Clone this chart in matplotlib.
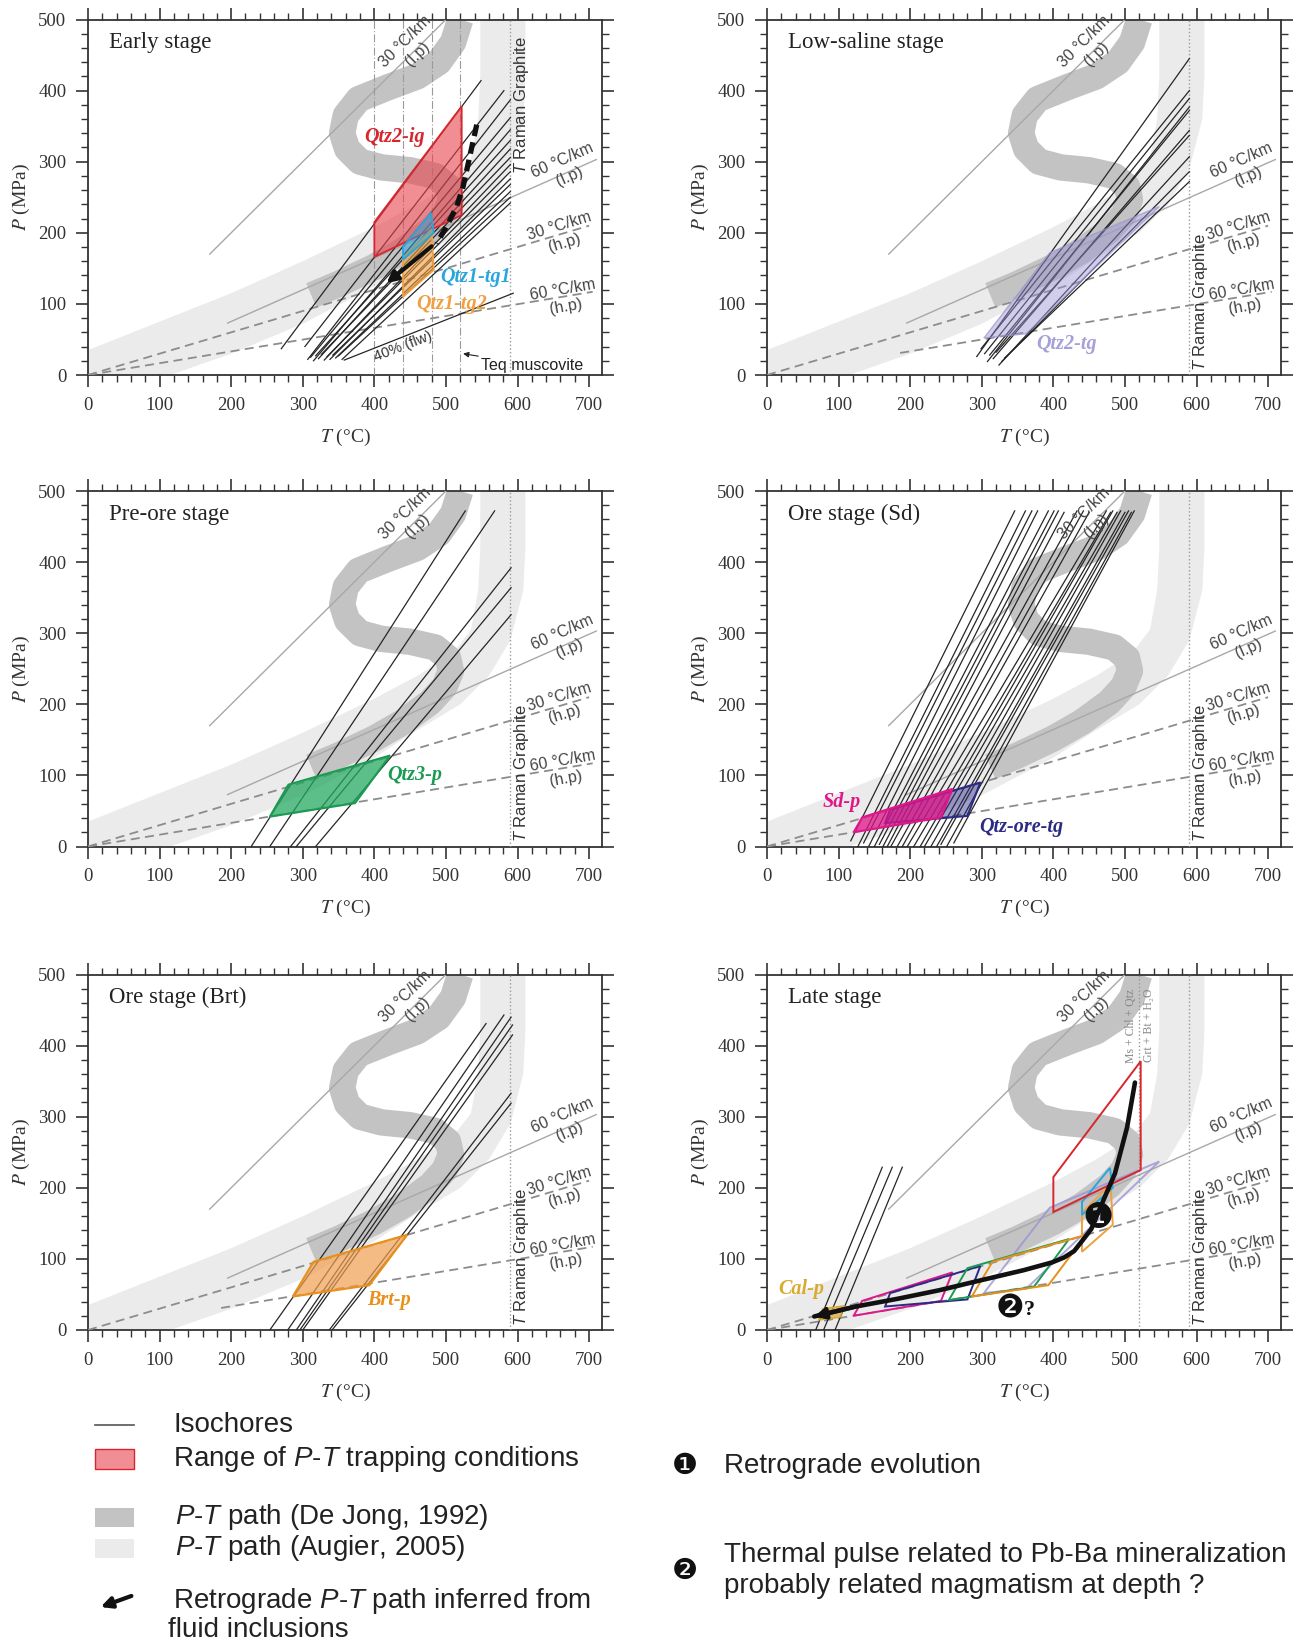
#!/usr/bin/env python3
"""
P-T diagrams of fluid-inclusion isochores for the six vein stages,
plotted over the regional P-T paths (De Jong 1992; Augier 2005).
Output: out.png (1303 x 1647 px).
"""

import matplotlib
matplotlib.use("Agg")
import matplotlib.pyplot as plt
from matplotlib.colors import to_rgba
from matplotlib.lines import Line2D
from matplotlib.patches import Rectangle, FancyArrowPatch

SERIF = "Liberation Serif"
SANS = "Liberation Sans"

plt.rcParams["mathtext.fontset"] = "custom"
plt.rcParams["mathtext.rm"] = SANS
plt.rcParams["mathtext.it"] = SANS + ":italic"

LIGHT = "#ebebeb"
DARK = "#c3c3c3"

# ---- regional P-T paths (T in degC, P in MPa) ----
# Augier (2005): broad light band, outline going up the left edge and back down the right
augier_t = [0, 100, 200, 300, 400, 460, 510, 535, 545, 548, 548,
            611, 611, 608, 590, 560, 520, 454, 400, 300, 200, 115, 0]
augier_p = [35, 75, 115, 160, 208, 240, 272, 305, 360, 420, 500,
            500, 420, 360, 290, 240, 200, 160, 125, 72, 30, 0, 0]
# De Jong (1992): S-shaped path (centre line of the dark band)
dejong_t = [312, 350, 400, 440, 478, 498, 507, 503, 485, 450, 410, 380,
            362, 355, 360, 378, 420, 460, 490, 510, 520]
dejong_p = [112, 128, 152, 175, 203, 225, 247, 265, 280, 288, 292, 300,
            318, 340, 365, 388, 405, 420, 440, 468, 500]

# ---- geotherms ----
g30lp_t, g30lp_p = [170, 500], [170, 500]
g60lp_t, g60lp_p = [195, 710], [73, 303]
g30hp_t, g30hp_p = [0, 700], [0, 210]
g60hp_t, g60hp_p = [0, 705], [0, 117]
g60hp_short_t, g60hp_short_p = [186, 705], [31, 117]
T_RAMAN = 590

# ---- isochores (T0, P0, T1, P1) ----
early_iso = [(270, 37, 549, 414), (303, 40, 581, 400), (307, 22, 590, 387),
             (311, 25, 590, 362), (315, 20, 590, 345), (318, 27, 590, 330),
             (322, 23, 590, 318), (326, 29, 590, 306), (330, 21, 590, 296),
             (334, 26, 590, 286), (338, 22, 590, 276), (342, 28, 590, 268),
             (346, 24, 590, 258), (350, 27, 590, 250), (355, 22, 590, 242)]
lowsal_iso = [(293, 26, 590, 445), (299, 37, 590, 400), (304, 30, 590, 389),
              (308, 19, 590, 377), (311, 28, 590, 372), (316, 23, 590, 344),
              (320, 32, 590, 337), (324, 14, 590, 307), (328, 19, 590, 286),
              (332, 24, 590, 272)]
preore_iso = [(228, 0, 527, 472), (254, 0, 568, 472), (283, 0, 591, 392),
              (291, 0, 591, 364), (318, 0, 591, 326)]
sd_iso = [(117, 8, 346, 472), (127, 0, 361, 472), (135, 5, 370, 472),
          (142, 0, 378, 472), (150, 0, 393, 472), (157, 3, 401, 472),
          (162, 0, 407, 472), (168, 0, 415, 470), (173, 0, 433, 472),
          (182, 0, 442, 472), (189, 0, 450, 470), (196, 0, 474, 472),
          (205, 0, 480, 470), (214, 0, 483, 472), (220, 0, 489, 470),
          (229, 0, 494, 472), (237, 0, 500, 470), (243, 3, 505, 472),
          (251, 0, 509, 470), (261, 5, 513, 472)]
brt_iso = [(254, 0, 556, 431), (279, 0, 581, 443), (291, 0, 591, 440),
           (296, 0, 593, 429), (300, 0, 593, 415), (337, 0, 591, 333),
           (341, 0, 591, 319)]
late_iso = [(68, 0, 161, 229), (79, 0, 175, 229), (95, 0, 189, 229)]

# ---- trapping-condition polygons ----
qtz2_ig_t, qtz2_ig_p = [400, 400, 522, 522], [166, 215, 378, 225]
qtz1_tg1_t, qtz1_tg1_p = [440, 440, 479, 483], [162, 180, 228, 200]
qtz1_tg2_t, qtz1_tg2_p = [440, 440, 480, 483], [110, 165, 205, 148]
qtz2_tg_t, qtz2_tg_p = [303, 395, 548, 362], [52, 172, 237, 58]
qtz3_p_t, qtz3_p_p = [254, 280, 422, 373], [42, 87, 128, 61]
sd_p_t, sd_p_p = [121, 133, 259, 243], [20, 41, 81, 41]
qtz_ore_t, qtz_ore_p = [165, 172, 298, 280], [33, 52, 90, 43]
brt_p_t, brt_p_p = [286, 315, 446, 393], [47, 96, 134, 63]
cal_p_t, cal_p_p = [72, 78, 108, 102], [14, 30, 34, 18]

# ---- retrograde paths ----
early_path_t = [543, 524, 515, 501, 487]
early_path_p = [352, 265, 237, 209, 185]
early_arrow_t = [480, 417]
early_arrow_p = [181, 129]
late_path_t = [514, 503, 486, 468, 453, 440, 429, 415, 398, 358, 299, 241,
               183, 124, 66]
late_path_p = [348, 285, 220, 178, 142, 125, 111, 102, 95, 84, 70, 56,
               44, 33, 19]

early_guides_t = [400, 440, 480, 520]
flw40_t, flw40_p = [358, 594], [21, 115]

RED = "#d8262f"
CYAN = "#29a6dc"
ORANGE = "#f0a040"
LAVENDER = "#9a94d4"
GREEN = "#1b9a52"
MAGENTA = "#e0168a"
NAVY = "#2b2b85"
BRT = "#e8901a"
CAL = "#d9aa30"


def style_axes(ax, title):
    ax.set_xlim(0, 718)
    ax.set_ylim(0, 500)
    ax.set_xticks(range(0, 701, 100))
    ax.set_xticks(range(0, 718, 20), minor=True)
    ax.set_yticks(range(0, 501, 100))
    ax.set_yticks(range(0, 501, 20), minor=True)
    ax.tick_params(which="both", direction="out", top=True, right=True,
                   color="#333333", labelcolor="#333333", labelsize=13.5)
    ax.tick_params(which="major", length=8.5, width=1.2, pad=7)
    ax.tick_params(which="minor", length=5, width=1.0)
    for lbl in ax.get_xticklabels() + ax.get_yticklabels():
        lbl.set_family(SERIF)
    for sp in ax.spines.values():
        sp.set_color("#333333")
        sp.set_linewidth(1.3)
    ax.set_xlabel("$T$ (°C)", family=SERIF, fontsize=14, color="#333333",
                  math_fontfamily="stix")
    ax.set_ylabel("$P$ (MPa)", family=SERIF, fontsize=14, color="#333333",
                  math_fontfamily="stix")
    ax.xaxis.set_label_coords(0.5, -0.145)
    ax.yaxis.set_label_coords(-0.108, 0.5)
    ax.text(0.04, 0.935, title, transform=ax.transAxes, family=SERIF,
            fontsize=16.5, va="center", ha="left", color="#222222")


def background(ax, iso, short_hp60=False, raman_p=103):
    ax.fill(augier_t, augier_p, color=LIGHT, lw=0, zorder=1)
    ax.plot(dejong_t, dejong_p, color=DARK, lw=19, solid_capstyle="butt",
            solid_joinstyle="round", zorder=2)
    ax.plot(g30lp_t, g30lp_p, color="#a8a8a8", lw=1.0, zorder=3)
    ax.plot(g60lp_t, g60lp_p, color="#a8a8a8", lw=1.0, zorder=3)
    ax.plot(g30hp_t, g30hp_p, color="#8c8c8c", lw=1.3, ls=(0, (5, 3)), zorder=3)
    if short_hp60:
        ax.plot(g60hp_short_t, g60hp_short_p, color="#8c8c8c", lw=1.3,
                ls=(0, (5, 3)), zorder=3)
    else:
        ax.plot(g60hp_t, g60hp_p, color="#8c8c8c", lw=1.3, ls=(0, (5, 3)), zorder=3)
    ax.axvline(T_RAMAN, color="#9a9a9a", lw=1.0, ls=":", zorder=3)

    for t0, p0, t1, p1 in iso:
        ax.plot([t0, t1], [p0, p1], color="#262626", lw=0.9, zorder=4)

    kw = dict(family=SANS, fontsize=11.5, color="#444444", ha="center",
              va="center", multialignment="center", zorder=6)
    ax.text(452, 460, "30 °C/km\n(l.p)", rotation=45, **kw)
    ax.text(668, 290, "60 °C/km\n(l.p)", rotation=24, **kw)
    ax.text(662, 198, "30 °C/km\n(h.p)", rotation=17, **kw)
    ax.text(665, 108, "60 °C/km\n(h.p)", rotation=10, **kw)
    ax.text(605, raman_p, "$T$ Raman Graphite", rotation=90, family=SANS,
            fontsize=12, color="#333333", ha="center", va="center", zorder=6)


def polygon(ax, t, p, color, alpha, edge=None, lw=1.3):
    ax.fill(t, p, facecolor=to_rgba(color, alpha),
            edgecolor=edge if edge else color, lw=lw, zorder=5)


def outline(ax, t, p, color):
    ax.fill(t, p, facecolor="none", edgecolor=color, lw=1.4, zorder=5)


def tag(ax, t, p, text, color):
    ax.text(t, p, text, family=SERIF, style="italic", weight="bold",
            fontsize=14.5, color=color, ha="center", va="center", zorder=7)


def panel_early(ax):
    background(ax, early_iso, raman_p=380)
    for t in early_guides_t:
        ax.axvline(t, color="#9a9a9a", lw=0.8, ls=(0, (7, 2, 1, 2)), zorder=3)
    ax.plot(flw40_t, flw40_p, color="#262626", lw=0.9, zorder=4)
    ax.text(440, 40, "40% (flw)", rotation=21, family=SANS, fontsize=10.5,
            color="#333333", ha="center", va="center", zorder=6)
    ax.annotate("Teq muscovite", xy=(524, 30), xytext=(549, 14),
                family=SANS, fontsize=11.5, color="#222222", va="center",
                arrowprops=dict(arrowstyle="-|>", color="#222222", lw=0.8,
                                shrinkA=0, shrinkB=0, mutation_scale=8),
                zorder=6)
    polygon(ax, qtz2_ig_t, qtz2_ig_p, "#e8434d", 0.6, edge=RED)
    polygon(ax, qtz1_tg2_t, qtz1_tg2_p, ORANGE, 0.6)
    polygon(ax, qtz1_tg1_t, qtz1_tg1_p, CYAN, 0.5)
    ax.plot(early_path_t, early_path_p, color="#111111", lw=3.8,
            ls=(0, (2.2, 1.2)), zorder=8)
    ax.annotate("", xy=(early_arrow_t[1], early_arrow_p[1]),
                xytext=(early_arrow_t[0], early_arrow_p[0]),
                arrowprops=dict(arrowstyle="-|>", color="#111111", lw=3,
                                shrinkA=0, shrinkB=0, mutation_scale=16),
                zorder=8)
    tag(ax, 428, 335, "Qtz2-ig", RED)
    tag(ax, 542, 138, "Qtz1-tg1", CYAN)
    tag(ax, 508, 100, "Qtz1-tg2", ORANGE)


def panel_lowsal(ax):
    background(ax, lowsal_iso, short_hp60=True)
    polygon(ax, qtz2_tg_t, qtz2_tg_p, LAVENDER, 0.45,
            edge=to_rgba(LAVENDER, 0.7), lw=1.0)
    tag(ax, 419, 44, "Qtz2-tg", "#a6a0d8")


def panel_preore(ax):
    background(ax, preore_iso)
    polygon(ax, qtz3_p_t, qtz3_p_p, "#25a862", 0.75, edge=GREEN, lw=1.5)
    tag(ax, 456, 100, "Qtz3-p", GREEN)


def panel_sd(ax):
    background(ax, sd_iso)
    # siderite box drawn over the quartz box so the overlap stays magenta
    polygon(ax, qtz_ore_t, qtz_ore_p, NAVY, 0.45, edge=NAVY, lw=1.5)
    polygon(ax, sd_p_t, sd_p_p, MAGENTA, 0.75, lw=1.5)
    tag(ax, 105, 63, "Sd-p", MAGENTA)
    tag(ax, 355, 28, "Qtz-ore-tg", NAVY)


def panel_brt(ax):
    background(ax, brt_iso, short_hp60=True)
    polygon(ax, brt_p_t, brt_p_p, "#f0a050", 0.7, edge=BRT, lw=1.5)
    tag(ax, 421, 42, "Brt-p", BRT)


def panel_late(ax):
    background(ax, late_iso)
    ax.axvline(520, color="#9a9a9a", lw=1.0, ls=":", zorder=3)
    ax.text(509, 428, "Ms + Chl + Qtz", rotation=90, family=[SERIF, "DejaVu Serif"],
            fontsize=8.5, color="#888888", ha="center", va="center", zorder=6)
    ax.text(533, 428, "Grt + Bt + H₂O", rotation=90, family=[SERIF, "DejaVu Serif"],
            fontsize=8.5, color="#888888", ha="center", va="center", zorder=6)
    outline(ax, qtz2_tg_t, qtz2_tg_p, to_rgba(LAVENDER, 0.8))
    outline(ax, sd_p_t, sd_p_p, MAGENTA)
    outline(ax, qtz_ore_t, qtz_ore_p, NAVY)
    outline(ax, qtz3_p_t, qtz3_p_p, GREEN)
    outline(ax, brt_p_t, brt_p_p, BRT)
    outline(ax, qtz1_tg2_t, qtz1_tg2_p, ORANGE)
    outline(ax, qtz1_tg1_t, qtz1_tg1_p, CYAN)
    outline(ax, qtz2_ig_t, qtz2_ig_p, RED)
    polygon(ax, cal_p_t, cal_p_p, CAL, 0.7, lw=1.0)
    ax.plot(late_path_t, late_path_p, color="#111111", lw=3.3,
            solid_capstyle="round", solid_joinstyle="round", zorder=8)
    ax.annotate("", xy=(late_path_t[-1], late_path_p[-1]),
                xytext=(late_path_t[-2], late_path_p[-2]),
                arrowprops=dict(arrowstyle="-|>", color="#111111", lw=3,
                                shrinkA=0, shrinkB=0, mutation_scale=16),
                zorder=8)
    ax.text(462, 157, "❶", family="DejaVu Sans", fontsize=25, color="#111111",
            ha="center", va="center", zorder=9)
    ax.text(340, 30, "❷", family="DejaVu Sans", fontsize=23, color="#111111",
            ha="center", va="center", zorder=9)
    ax.text(358, 28, "?", family=SERIF, weight="bold", fontsize=16,
            color="#111111", ha="left", va="center", zorder=9)
    tag(ax, 48, 58, "Cal-p", CAL)


def legend(fig):
    W, H = 1303.0, 1647.0

    def fx(x):
        return x / W

    def fy(y):
        return 1 - y / H

    fig.add_artist(Line2D([fx(95), fx(134)], [fy(1425), fy(1425)],
                          color="#555555", lw=1.2))
    fig.add_artist(Rectangle((fx(95), fy(1469)), 39 / W, 20 / H,
                             facecolor=to_rgba("#e8434d", 0.6), edgecolor=RED, lw=1))
    fig.add_artist(Rectangle((fx(95), fy(1527)), 39 / W, 19 / H,
                             facecolor=DARK, edgecolor="none"))
    fig.add_artist(Rectangle((fx(95), fy(1558)), 39 / W, 19 / H,
                             facecolor=LIGHT, edgecolor="none"))
    fig.add_artist(FancyArrowPatch((fx(134), fy(1595)), (fx(98), fy(1608)),
                                   arrowstyle="-|>", mutation_scale=16,
                                   lw=3, color="#111111"))

    kw = dict(family=SANS, fontsize=20, color="#222222", va="center", ha="left")
    fig.text(fx(173), fy(1425), "Isochores", **kw)
    fig.text(fx(173), fy(1459), "Range of $P$-$T$ trapping conditions", **kw)
    fig.text(fx(175), fy(1517), "$P$-$T$ path (De Jong, 1992)", **kw)
    fig.text(fx(175), fy(1548), "$P$-$T$ path (Augier, 2005)", **kw)
    fig.text(fx(173), fy(1601), "Retrograde $P$-$T$ path inferred from", **kw)
    fig.text(fx(168), fy(1630), "fluid inclusions", **kw)

    fig.text(fx(685), fy(1466), "❶", family="DejaVu Sans", fontsize=21,
             color="#111111", ha="center", va="center")
    fig.text(fx(724), fy(1466), "Retrograde evolution", **kw)
    fig.text(fx(685), fy(1571), "❷", family="DejaVu Sans", fontsize=21,
             color="#111111", ha="center", va="center")
    fig.text(fx(724), fy(1555), "Thermal pulse related to Pb-Ba mineralization", **kw)
    fig.text(fx(724), fy(1586), "probably related magmatism at depth ?", **kw)


def main():
    fig = plt.figure(figsize=(13.03, 16.47), dpi=100)
    fig.patch.set_facecolor("white")

    lefts = [88 / 1303, 767 / 1303]
    bottoms = [(1647 - 375) / 1647, (1647 - 846.5) / 1647, (1647 - 1330) / 1647]
    w, h = 514 / 1303, 355.5 / 1647

    panels = [
        ("Early stage", panel_early),
        ("Low-saline stage", panel_lowsal),
        ("Pre-ore stage", panel_preore),
        ("Ore stage (Sd)", panel_sd),
        ("Ore stage (Brt)", panel_brt),
        ("Late stage", panel_late),
    ]
    for i, (title, draw) in enumerate(panels):
        ax = fig.add_axes([lefts[i % 2], bottoms[i // 2], w, h])
        draw(ax)
        style_axes(ax, title)

    legend(fig)
    fig.savefig("out.png", dpi=100)
    plt.close(fig)


if __name__ == "__main__":
    main()
